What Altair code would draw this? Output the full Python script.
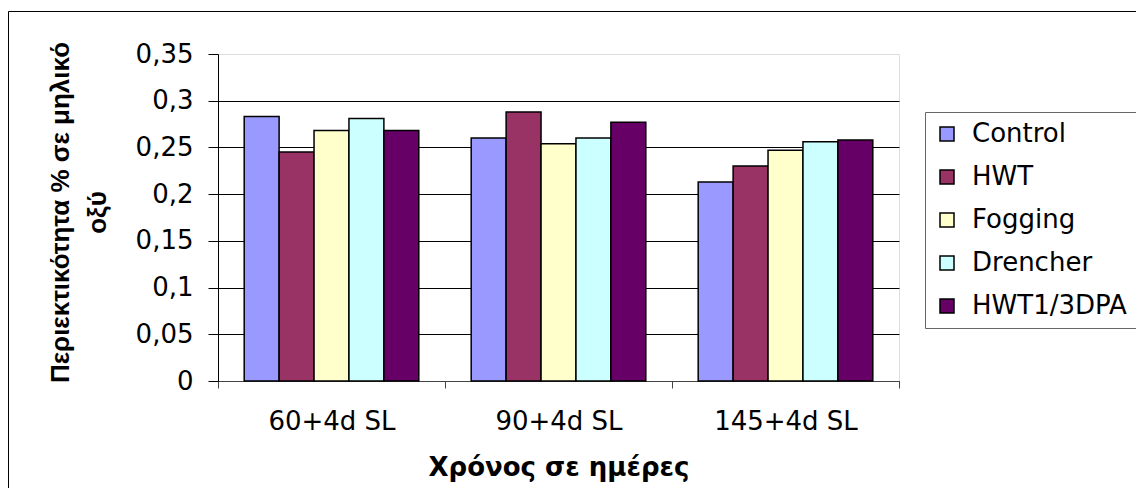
import altair as alt
import pandas as pd

categories = ["60+4d SL", "90+4d SL", "145+4d SL"]
series = ["Control", "HWT", "Fogging", "Drencher", "HWT1/3DPA"]
control = [0.283, 0.260, 0.213]
hwt = [0.245, 0.288, 0.230]
fogging = [0.268, 0.254, 0.247]
drencher = [0.281, 0.260, 0.256]
hwt1_3dpa = [0.268, 0.277, 0.258]
colors = ["#9999FF", "#993366", "#FFFFCC", "#CCFFFF", "#660066"]
y_ticks = [0, 0.05, 0.1, 0.15, 0.2, 0.25, 0.3, 0.35]

rows = []
for name, vals in zip(series, [control, hwt, fogging, drencher, hwt1_3dpa]):
    for cat, v in zip(categories, vals):
        rows.append({"time": cat, "series": name, "value": v})
df = pd.DataFrame(rows)

FONT = "DejaVu Sans"
TFONT = "Liberation Sans"

bars = alt.Chart(df).mark_bar(stroke="black", strokeWidth=1.5).encode(
    x=alt.X(
        "time:N",
        sort=categories,
        scale=alt.Scale(paddingInner=0, paddingOuter=0),
        axis=alt.Axis(
            title="Χρόνος σε ημέρες",
            tickBand="extent",
            labelAngle=0,
            labelFontSize=26,
            labelFont=FONT,
            labelColor="black",
            labelPadding=20,
            tickSize=7,
            tickColor="#444",
            domainColor="#444",
            titleFont=FONT,
            titleFontSize=26,
            titleFontWeight="bold",
            titleColor="black",
            titleBaseline="middle",
            titleY=86,
        ),
    ),
    xOffset=alt.XOffset(
        "series:N", sort=series, scale=alt.Scale(paddingInner=0, paddingOuter=0.75)
    ),
    y=alt.Y(
        "value:Q",
        scale=alt.Scale(domain=[0, 0.35], nice=False, zero=True),
        axis=alt.Axis(
            title=["Περιεκτικότητα % σε μηλικό", "οξύ"],
            values=y_ticks,
            labelExpr="replace(format(datum.value, '~g'), '.', ',')",
            labelFontSize=26,
            labelFont=FONT,
            labelColor="black",
            labelPadding=15,
            tickSize=10,
            tickColor="black",
            domainColor="black",
            grid=True,
            gridColor="black",
            gridOpacity={"condition": {"test": "datum.value > 0.34", "value": 0}, "value": 1},
            titleFont=TFONT,
            titleFontSize=26,
            titleFontWeight="bold",
            titleColor="black",
            titleAngle=270,
            titleAlign="center",
            titleBaseline="middle",
            titleLineHeight=37,
            titleX=-158,
            titleY=158,
        ),
    ),
    color=alt.Color(
        "series:N",
        sort=series,
        scale=alt.Scale(domain=series, range=colors),
        legend=alt.Legend(
            title=None,
            orient="none",
            legendX=707,
            legendY=58,
            padding=9,
            strokeColor="#666666",
            fillColor="white",
            symbolType="square",
            symbolSize=196,
            symbolStrokeColor="black",
            symbolStrokeWidth=1.5,
            labelFontSize=26,
            labelFont=FONT,
            labelColor="black",
            labelOffset=12,
            rowPadding=17,
        ),
    ),
)

frame = alt.Chart(pd.DataFrame({"k": [0]})).mark_rect(
    fill=None, stroke="black", strokeWidth=1, clip=False
).encode(
    x=alt.value(-209.5), x2=alt.value(2000), y=alt.value(-42.5), y2=alt.value(2000)
)

chart = alt.layer(frame, bars).properties(
    width=681,
    height=327,
    autosize=alt.AutoSizeParams(type="none"),
    padding={"left": 210, "top": 46, "right": 237, "bottom": 107},
).configure_view(stroke=None).configure(background="white")

chart.save("out.html", embed_options={"renderer": "svg", "actions": False})
